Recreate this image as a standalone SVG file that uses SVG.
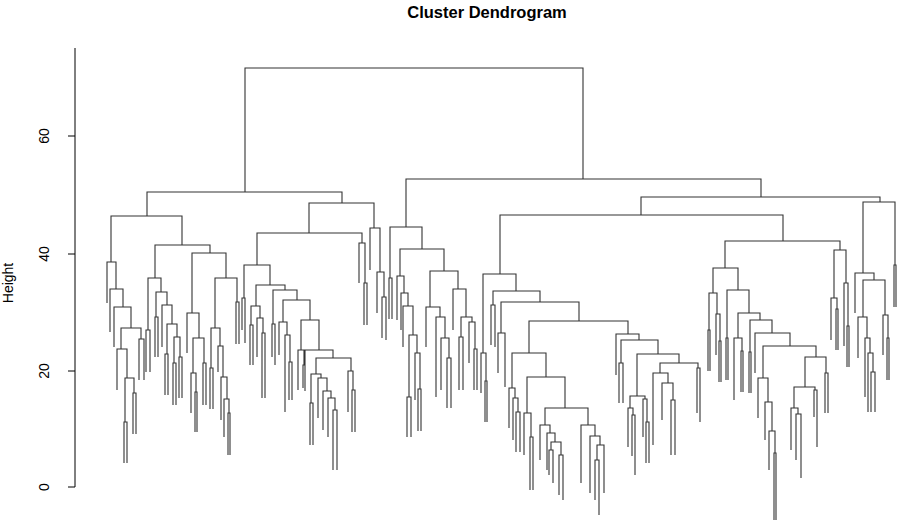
<svg xmlns="http://www.w3.org/2000/svg" width="900" height="524" viewBox="0 0 900 524">
<style>
.t{font-family:"Liberation Sans",Arial,sans-serif;fill:#000}
.ax{stroke:#000;stroke-width:1;fill:none}
.d{stroke:#333;stroke-width:1.1;fill:none}
</style>
<rect width="900" height="524" fill="#fff"/>
<text class="t" x="487" y="18" font-size="16.5" font-weight="bold" text-anchor="middle">Cluster Dendrogram</text>
<g id="axis">
<path class="ax" d="M75 48 V487 M68 487 H75 M68 371 H75 M68 254 H75 M68 136 H75"/>
<text class="t" font-size="14" text-anchor="middle" transform="translate(49 487) rotate(-90)">0</text>
<text class="t" font-size="14" text-anchor="middle" transform="translate(49 371) rotate(-90)">20</text>
<text class="t" font-size="14" text-anchor="middle" transform="translate(49 254) rotate(-90)">40</text>
<text class="t" font-size="14" text-anchor="middle" transform="translate(49 136) rotate(-90)">60</text>
<text class="t" font-size="14" text-anchor="middle" transform="translate(13 283) rotate(-90)">Height</text>
</g>
<g id="connectors">
<path class="d" d="M245 192 V68 H583 V179 M147 216 V192 H342 V203 M406 227 V179 H761 V197
M111 262 V216 H182 V245 M107 303 V262 H116 V289 M110 332 V289 H123 V307 M114 347 V307 H131 V328 M121 349 V328 H141 V339 M139 380 V339 H144 V380 M117 390 V349 H127 V378 M125 422 V378 H134 V393 M124 463 V422 H127 V463 M133 434 V393 H136 V434
M155 278 V245 H210 V253 M148 330 V278 H161 V292 M146 372 V330 H150 V372 M156 317 V292 H167 V305 M155 357 V317 H158 V357 M162 347 V305 H172 V324 M167 354 V324 H177 V337 M165 395 V354 H168 V395 M174 363 V337 H180 V357 M173 405 V363 H176 V405 M179 398 V357 H182 V398
M192 313 V253 H226 V278 M187 353 V313 H199 V338 M193 373 V338 H204 V363 M191 413 V373 H196 V392 M195 432 V392 H197 V432 M203 405 V363 H206 V405 M215 328 V278 H237 V302 M211 368 V328 H220 V346 M210 409 V368 H213 V409 M218 372 V346 H223 V377 M221 420 V377 H227 V399 M224 437 V399 H229 V413 M228 455 V413 H230 V455 M236 344 V302 H239 V344
M309 233 V203 H374 V228 M257 265 V233 H362 V243 M244 298 V265 H270 V285 M242 330 V298 H245 V343 M256 306 V285 H285 V290 M251 325 V306 H260 V318 M250 365 V325 H253 V365 M257 357 V318 H263 V333 M262 398 V333 H265 V398 M273 324 V290 H297 V300 M272 357 V324 H275 V365 M283 322 V300 H310 V320 M279 355 V322 H287 V335 M285 412 V335 H290 V362 M289 400 V362 H292 V400 M301 350 V320 H319 V350 M298 390 V350 H304 V365 M303 388 V365 H305 V388 M305 391 V350 H333 V358 M316 374 V358 H351 V371 M311 403 V374 H321 V378 M310 445 V403 H313 V445 M318 418 V378 H327 V391 M323 430 V391 H331 V398 M328 437 V398 H335 V410 M333 470 V410 H337 V470 M348 412 V371 H353 V390 M352 432 V390 H355 V432 M359 283 V243 H365 V283 M364 325 V283 H367 V325 M370 270 V228 H380 V272 M377 313 V272 H384 V297 M382 338 V297 H386 V340
M390 278 V227 H422 V249 M389 319 V278 H392 V319 M400 276 V249 H444 V271 M397 320 V276 H404 V293 M401 330 V293 H408 V306 M403 347 V306 H413 V335 M409 397 V335 H417 V353 M407 437 V397 H411 V437 M415 400 V353 H420 V389 M418 431 V389 H421 V431 M430 307 V271 H458 V289 M426 347 V307 H440 V317 M436 397 V317 H445 V338 M441 390 V338 H449 V358 M447 408 V358 H451 V408 M453 330 V289 H466 V317 M461 337 V317 H472 V322 M459 390 V337 H463 V390 M469 363 V322 H475 V349 M474 390 V349 H477 V390
M641 215 V197 H880 V202 M500 274 V215 H783 V241 M483 353 V274 H516 V291 M481 393 V353 H486 V381 M485 422 V381 H487 V422 M493 305 V291 H540 V302 M491 345 V305 H495 V347 M501 333 V302 H579 V321 M498 373 V333 H505 V387 M529 353 V321 H628 V334 M512 388 V353 H546 V377 M509 428 V388 H515 V398 M513 440 V398 H518 V412 M516 452 V412 H520 V452 M527 413 V377 H565 V408 M524 455 V413 H531 V437 M530 490 V437 H533 V490 M545 425 V408 H588 V425 M540 460 V425 H550 V433 M547 470 V433 H555 V442 M551 450 V442 H561 V455 M549 475 V450 H553 V483 M559 495 V455 H563 V500 M581 483 V425 H595 V436 M590 493 V436 H600 V445 M597 460 V445 H604 V493 M595 500 V460 H599 V515
M616 375 V334 H639 V340 M621 363 V340 H658 V354 M619 403 V363 H623 V403 M637 396 V354 H679 V363 M630 408 V396 H645 V399 M628 447 V408 H633 V415 M632 456 V415 H635 V475 M643 437 V399 H647 V422 M646 463 V422 H649 V463 M660 373 V363 H698 V368 M653 445 V373 H668 V383 M662 420 V383 H673 V400 M671 455 V400 H675 V455 M697 413 V368 H700 V422
M725 268 V241 H840 V250 M713 293 V268 H738 V290 M709 330 V293 H717 V314 M708 371 V330 H710 V371 M716 355 V314 H720 V341 M719 382 V341 H721 V382 M727 338 V290 H749 V313 M726 380 V338 H728 V380 M738 338 V313 H760 V320 M734 400 V338 H742 V351 M741 392 V351 H743 V392 M750 352 V320 H772 V333 M749 393 V352 H751 V393 M755 373 V333 H790 V346 M763 378 V346 H816 V357 M758 418 V378 H768 V402 M765 440 V402 H772 V431 M769 470 V431 H775 V453 M774 520 V453 H776 V520 M805 387 V357 H826 V373 M794 408 V387 H815 V390 M814 417 V390 H817 V447 M791 450 V408 H798 V414 M796 460 V414 H801 V478 M825 413 V373 H828 V413
M834 298 V250 H846 V283 M831 340 V298 H837 V309 M836 350 V309 H838 V350 M844 346 V283 H848 V326 M847 367 V326 H849 V367
M863 273 V202 H895 V265 M855 313 V273 H874 V280 M863 317 V280 H885 V315 M858 358 V317 H867 V338 M865 397 V338 H870 V353 M868 412 V353 H873 V372 M871 412 V372 H875 V412 M883 355 V315 H888 V338 M887 380 V338 H889 V380 M894 307 V265 H896 V307"/>
</g>
</svg>
